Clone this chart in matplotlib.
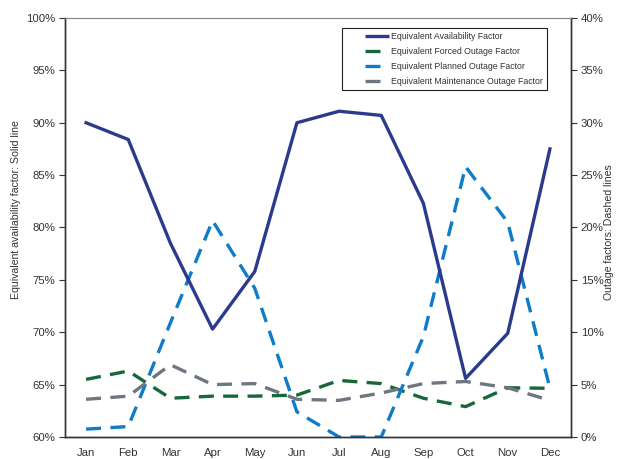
import matplotlib
matplotlib.use("Agg")
import matplotlib.pyplot as plt
from matplotlib.lines import Line2D
from matplotlib.ticker import FuncFormatter, MultipleLocator

months = ["Jan", "Feb", "Mar", "Apr", "May", "Jun", "Jul", "Aug", "Sep", "Oct", "Nov", "Dec"]
eaf = [90.0, 88.4, 78.5, 70.3, 75.8, 90.0, 91.1, 90.7, 82.3, 65.6, 69.9, 87.5]
efof = [5.5, 6.3, 3.7, 3.9, 3.9, 4.0, 5.4, 5.1, 3.7, 2.9, 4.7, 4.65]
epof = [0.75, 1.0, 10.9, 20.65, 14.2, 2.4, 0.0, 0.0, 9.6, 25.8, 20.5, 4.65]
emof = [3.6, 3.9, 6.9, 5.0, 5.1, 3.6, 3.5, 4.2, 5.1, 5.3, 4.7, 3.5]
labels = ["Equivalent Availability Factor", "Equivalent Forced Outage Factor",
          "Equivalent Planned Outage Factor", "Equivalent Maintenance Outage Factor"]

plt.rcParams["font.family"] = ["Liberation Sans", "DejaVu Sans"]

c_eaf = "#2B3A8C"
c_efof = "#17673A"
c_epof = "#0E7CC8"
c_emof = "#6E7681"

fig = plt.figure(figsize=(6.18, 4.59), dpi=100)
ax = fig.add_axes([65/618, 22/459, (571-65)/618, (437-18)/459])
ax2 = ax.twinx()

x = list(range(len(months)))
lw = 2.4
ax.plot(x, eaf, color=c_eaf, lw=lw, zorder=5)
ds = (0, (4.5, 2.8))
ax2.plot(x, efof, color=c_efof, lw=lw, linestyle=ds)
ax2.plot(x, epof, color=c_epof, lw=lw, linestyle=ds)
ax2.plot(x, emof, color=c_emof, lw=lw, linestyle=ds)
ax.set_zorder(ax2.get_zorder() + 1)
ax.patch.set_visible(False)

ax.set_xlim(-0.5, 11.5)
ax.set_ylim(60, 100)
ax2.set_ylim(0, 40)
ax.yaxis.set_major_locator(MultipleLocator(5))
ax2.yaxis.set_major_locator(MultipleLocator(5))
ax.yaxis.set_major_formatter(FuncFormatter(lambda v, p: f"{v:.0f}%"))
ax2.yaxis.set_major_formatter(FuncFormatter(lambda v, p: f"{v:.0f}%"))
ax.set_xticks(x)
ax.set_xticklabels(months)

tc = "#333333"
fs = 8.2
ax.tick_params(axis="x", length=0, pad=8, labelsize=fs, labelcolor=tc)
ax.tick_params(axis="y", direction="out", length=4, width=0.8, color="#333333", labelsize=fs, labelcolor=tc, pad=3)
ax2.tick_params(axis="y", direction="out", length=4, width=0.8, color="#333333", labelsize=fs, labelcolor=tc, pad=3)

for a in (ax, ax2):
    for s in ("left", "bottom", "right"):
        a.spines[s].set_color("#333333")
        a.spines[s].set_linewidth(1.0)
    a.spines["top"].set_color("#888888")
    a.spines["top"].set_linewidth(0.8)

ax.set_ylabel("Equivalent availability factor: Solid line", fontsize=7.6, color=tc)
ax.yaxis.set_label_coords(-44/506, (437-210)/419)
ax2.set_ylabel("Outage factors: Dashed lines", fontsize=7.6, color=tc)
ax2.yaxis.set_label_coords(1 + 33/506, (437-232)/419)

handles = [
    Line2D([], [], color=c_eaf, lw=lw, linestyle=(7.2, (7.2, 5.7))),
    Line2D([], [], color=c_efof, lw=lw, linestyle=(8.8, (4.5, 10))),
    Line2D([], [], color=c_epof, lw=lw, linestyle=(8.8, (4.5, 10))),
    Line2D([], [], color=c_emof, lw=lw, linestyle=(8.8, (4.5, 10))),
]
leg = ax.legend(handles, labels, loc="upper left", bbox_to_anchor=((342-65)/506, 1 - 10/419),
                fontsize=6.3, frameon=True, fancybox=False, framealpha=1, edgecolor="#222222",
                handlelength=5.0, handletextpad=0.2, labelspacing=0.68, borderpad=0.45,
                borderaxespad=0)
leg.get_frame().set_linewidth(0.8)
for h in leg.get_lines():
    h.set_dash_capstyle("butt")
for t in leg.get_texts():
    t.set_color(tc)

fig.savefig("out.png", dpi=100)
